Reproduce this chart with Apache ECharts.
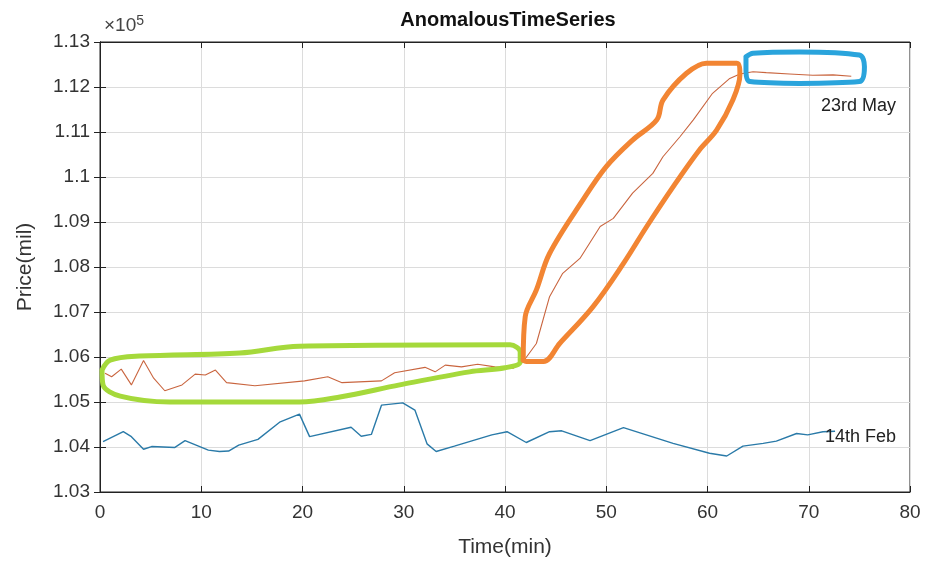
<!DOCTYPE html>
<html>
<head>
<meta charset="utf-8">
<script src="https://cdn.jsdelivr.net/npm/echarts@6/dist/echarts.min.js"></script>
<style>
  html, body { margin: 0; padding: 0; background: #fff; }
  #chart { width: 927px; height: 563px; }
</style>
</head>
<body>
<div id="chart"></div>
<script>
// 14th Feb (blue)
var febT = [0.3, 2.3, 3.1, 4.3, 5.1, 7.4, 8.4, 10.7, 11.8, 12.7, 13.7, 15.6, 17.8, 19.7, 20.7, 24.8, 25.8, 26.8, 27.8, 29.9, 31.1, 32.3, 33.2, 35, 38.7, 40.2, 42.1, 44.4, 45.6, 48.4, 51.7, 56.6, 60.2, 61.9, 63.5, 65.5, 66.8, 68.8, 69.9, 71.4, 72.6];
var febV = [104120, 104340, 104230, 103950, 104010, 103990, 104140, 103930, 103900, 103910, 104040, 104170, 104560, 104730, 104230, 104440, 104240, 104280, 104930, 104980, 104820, 104070, 103900, 104020, 104270, 104340, 104100, 104340, 104360, 104140, 104430, 104080, 103860, 103800, 104020, 104080, 104130, 104300, 104270, 104340, 104350];

// 23rd May (red)
var mayT = [0.5, 1.15, 2.1, 3.1, 4.3, 5.3, 6.4, 8.1, 9.4, 10.4, 11.4, 12.5, 15.3, 20.2, 22.5, 23.9, 27.8, 29.1, 32.1, 33.1, 34.1, 35.7, 37.3, 39, 40.8, 41.8, 43.1, 44.4, 45.7, 47.4, 49.4, 50.7, 52.6, 54.6, 55.6, 57.3, 58.6, 60.5, 62.2, 63.2, 64.5, 65.8, 68.1, 70.4, 72.4, 74.2];
var mayV = [105640, 105560, 105730, 105380, 105920, 105530, 105250, 105380, 105620, 105600, 105710, 105430, 105360, 105470, 105560, 105430, 105470, 105650, 105770, 105670, 105820, 105780, 105840, 105780, 105750, 105900, 106300, 107340, 107860, 108190, 108900, 109080, 109640, 110080, 110450, 110900, 111270, 111860, 112190, 112290, 112340, 112320, 112290, 112260, 112270, 112240];

// hand-drawn highlight outlines
var greenT = [0.2, 1.0, 3.9, 13.8, 19.7, 40.5, 41.5, 41.5, 40.0, 36.5, 29.6, 23.7, 19.7, 6.9, 2.0, 0.3, 0.2];
var greenV = [105710, 105930, 106020, 106090, 106240, 106270, 106110, 105890, 105760, 105670, 105380, 105110, 105000, 105000, 105130, 105380, 105710];
var orangeT = [41.8, 42.0, 43.1, 44.4, 47.7, 50.0, 52.6, 55.0, 55.6, 57.9, 59.9, 62.9, 63.2, 62.5, 60.9, 59.2, 56.6, 54.0, 51.7, 48.7, 45.4, 43.8, 42.1, 41.8];
var orangeV = [105930, 106900, 107490, 108300, 109490, 110230, 110820, 111270, 111710, 112300, 112530, 112530, 112270, 111710, 111040, 110600, 109780, 108900, 108080, 107120, 106300, 105900, 105900, 105930];
var blueT = [63.8, 64.5, 69.1, 75.0, 75.5, 75.0, 69.1, 64.2, 63.8, 63.8];
var blueV = [112670, 112750, 112780, 112710, 112450, 112120, 112080, 112120, 112380, 112670];

var xTicks = [0, 80, 10];
var yTicks = [103000, 113000, 1000];

function zip(a, b) {
  return a.map(function (v, i) { return [v, b[i]]; });
}

var chart = echarts.init(document.getElementById('chart'));
var font = 'Liberation Sans, Arial, sans-serif';

function outline(data, color) {
  return {
    type: 'line', data: data, smooth: 0.35, symbol: 'none', z: 5,
    lineStyle: { color: color, width: 5, cap: 'round', join: 'round' },
    silent: true
  };
}

var option = {
  backgroundColor: '#fff',
  animation: false,
  title: {
    text: 'AnomalousTimeSeries', left: 503, top: 5, textAlign: 'center',
    textStyle: { fontFamily: font, fontSize: 20, fontWeight: 'bold', color: '#111' }
  },
  grid: { left: 100, right: 17, top: 42, bottom: 71, show: true, borderColor: '#222', borderWidth: 1 },
  xAxis: [{
    type: 'value', min: xTicks[0], max: xTicks[1], interval: xTicks[2],
    name: 'Time(min)', nameLocation: 'middle', nameGap: 45,
    nameTextStyle: { fontFamily: font, fontSize: 21, color: '#333' },
    axisLine: { show: true, onZero: false, lineStyle: { color: '#222' } },
    axisTick: { show: true, inside: true, length: 6, lineStyle: { color: '#222' } },
    axisLabel: { fontFamily: font, fontSize: 19, color: '#333', margin: 11 },
    splitLine: { show: true, lineStyle: { color: '#dcdcdc', width: 1 } }
  }, {
    type: 'value', position: 'top', min: xTicks[0], max: xTicks[1], interval: xTicks[2],
    axisLine: { show: true, lineStyle: { color: '#222' } },
    axisTick: { show: true, inside: true, length: 6, lineStyle: { color: '#222' } },
    axisLabel: { show: false }, splitLine: { show: false }
  }],
  yAxis: [{
    type: 'value', min: yTicks[0], max: yTicks[1], interval: yTicks[2],
    name: 'Price(mil)', nameLocation: 'middle', nameGap: 64,
    nameTextStyle: { fontFamily: font, fontSize: 21, color: '#333' },
    axisLine: { show: true, onZero: false, lineStyle: { color: '#222' } },
    axisTick: { show: true, inside: true, length: 6, lineStyle: { color: '#222' } },
    axisLabel: {
      fontFamily: font, fontSize: 19, color: '#333', margin: 10,
      formatter: function (v) { return String(+(v / 1e5).toFixed(2)); }
    },
    splitLine: { show: true, lineStyle: { color: '#dcdcdc', width: 1 } }
  }, {
    type: 'value', position: 'right', min: yTicks[0], max: yTicks[1], interval: yTicks[2],
    axisLine: { show: true, lineStyle: { color: '#222' } },
    axisTick: { show: true, inside: true, length: 6, lineStyle: { color: '#222' } },
    axisLabel: { show: false }, splitLine: { show: false }
  }],
  graphic: [{
    type: 'text', left: 104, top: 14,
    style: {
      text: '×10{sup|5}', fill: '#444',
      font: '19px ' + font,
      rich: { sup: { fontSize: 14, verticalAlign: 'top', padding: [0, 0, 10, 0] } }
    }
  }],
  series: [{
    name: '14th Feb', type: 'line', data: zip(febT, febV), symbol: 'none',
    lineStyle: { color: '#2a7aa8', width: 1.4 },
    markPoint: {
      symbol: 'circle', symbolSize: 0,
      label: { show: true, position: 'right', distance: 0, fontFamily: font, fontSize: 18, color: '#222' },
      data: [{ coord: [71.6, 104220], value: '14th Feb', label: { formatter: '14th Feb' } }]
    }
  }, {
    name: '23rd May', type: 'line', data: zip(mayT, mayV), symbol: 'none',
    lineStyle: { color: '#c9653f', width: 1.1 },
    markPoint: {
      symbol: 'circle', symbolSize: 0,
      label: { show: true, position: 'right', distance: 0, fontFamily: font, fontSize: 18, color: '#222' },
      data: [{ coord: [71.2, 111580], value: '23rd May', label: { formatter: '23rd May' } }]
    }
  },
  outline(zip(greenT, greenV), '#a5d93b'),
  outline(zip(orangeT, orangeV), '#f28533'),
  outline(zip(blueT, blueV), '#2aa4dc')]
};

chart.setOption(option);
</script>
</body>
</html>
